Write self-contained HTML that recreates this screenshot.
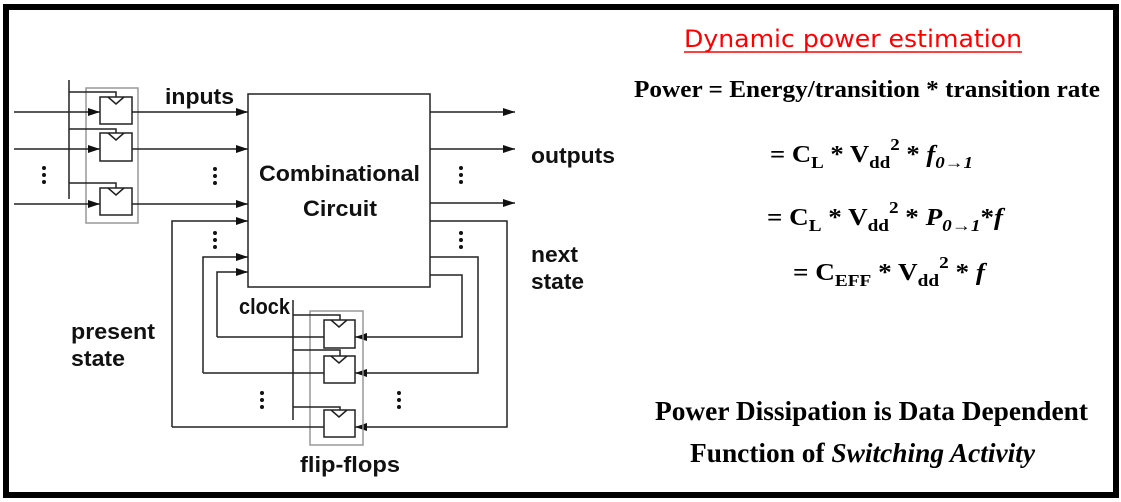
<!DOCTYPE html>
<html><head><meta charset="utf-8"><style>
html,body{margin:0;padding:0;background:#fff;}
svg{display:block;}
.l{font-family:"Liberation Sans",Arial,sans-serif;font-weight:bold;font-size:22px;fill:#111;}
.s{font-family:"Liberation Serif","Times New Roman",serif;font-weight:bold;fill:#000;}
</style></head><body>
<svg width="1121" height="502" viewBox="0 0 1121 502" xmlns="http://www.w3.org/2000/svg">
<defs>
<marker id="a" markerWidth="12" markerHeight="8" refX="12" refY="4" orient="auto" markerUnits="userSpaceOnUse">
<path d="M0,0 L12,4 L0,8 z" fill="#111"/></marker>
</defs>
<rect x="6" y="7" width="1110" height="488" fill="#fff" stroke="#000" stroke-width="6"/>

<g stroke="#222" stroke-width="1.5" fill="none">
<rect x="86" y="88" width="52" height="135" stroke="#999"/>
<rect x="100" y="97" width="32" height="27" fill="#fff"/>
<rect x="100" y="133" width="32" height="28" fill="#fff"/>
<rect x="100" y="188" width="32" height="27" fill="#fff"/>
<path d="M108,97 L116,104 L124,97 M108,133 L116,140 L124,133 M108,188 L116,195 L124,188"/>
<path d="M69,80 V199 M69,92 H116 V97 M69,129 H116 V133 M69,183 H116 V188"/>
<path d="M14,112 H100" marker-end="url(#a)"/>
<path d="M14,149 H100" marker-end="url(#a)"/>
<path d="M14,204 H100" marker-end="url(#a)"/>
<path d="M132,112 H248" marker-end="url(#a)"/>
<path d="M132,149 H248" marker-end="url(#a)"/>
<path d="M132,204 H248" marker-end="url(#a)"/>
<rect x="248" y="94" width="182" height="193"/>
<path d="M172,427 V221 H248" marker-end="url(#a)"/>
<path d="M203,373 V257 H248" marker-end="url(#a)"/>
<path d="M217,337 V272 H248" marker-end="url(#a)"/>
<path d="M430,112 H515" marker-end="url(#a)"/>
<path d="M430,149 H515" marker-end="url(#a)"/>
<path d="M430,203 H515" marker-end="url(#a)"/>
<path d="M430,221 H507 V427 H355" marker-end="url(#a)"/>
<path d="M430,257 H478 V373 H355" marker-end="url(#a)"/>
<path d="M430,275 H462 V337 H355" marker-end="url(#a)"/>
<rect x="310" y="311" width="53" height="134" stroke="#999"/>
<rect x="324" y="320" width="31" height="28" fill="#fff"/>
<rect x="324" y="356" width="31" height="27" fill="#fff"/>
<rect x="324" y="410" width="31" height="27" fill="#fff"/>
<path d="M331,320 L339,327 L347,320 M331,356 L339,363 L347,356 M331,410 L339,417 L347,410"/>
<path d="M324,337 H217 M324,373 H203 M324,427 H172"/>
<path d="M293,300 V420 M293,315 H340 V320 M293,350 H340 V356 M293,407 H340 V410"/>
</g>
<g fill="#111">
<circle cx="44" cy="168" r="2"/><circle cx="44" cy="175" r="2"/><circle cx="44" cy="182" r="2"/>
<circle cx="215" cy="169" r="2"/><circle cx="215" cy="176" r="2"/><circle cx="215" cy="183" r="2"/>
<circle cx="215" cy="233" r="2"/><circle cx="215" cy="240" r="2"/><circle cx="215" cy="247" r="2"/>
<circle cx="461" cy="168" r="2"/><circle cx="461" cy="175" r="2"/><circle cx="461" cy="182" r="2"/>
<circle cx="461" cy="233" r="2"/><circle cx="461" cy="240" r="2"/><circle cx="461" cy="247" r="2"/>
<circle cx="262" cy="393" r="2"/><circle cx="262" cy="400" r="2"/><circle cx="262" cy="407" r="2"/>
<circle cx="399" cy="393" r="2"/><circle cx="399" cy="400" r="2"/><circle cx="399" cy="407" r="2"/>
</g>
<g lengthAdjust="spacingAndGlyphs">
<text class="l" x="165" y="104" textLength="69" lengthAdjust="spacingAndGlyphs">inputs</text>
<text class="l" x="259" y="181" textLength="161" lengthAdjust="spacingAndGlyphs">Combinational</text>
<text class="l" x="303" y="216" textLength="74" lengthAdjust="spacingAndGlyphs">Circuit</text>
<text class="l" x="531" y="163" textLength="84" lengthAdjust="spacingAndGlyphs">outputs</text>
<text class="l" x="531" y="262" textLength="47" lengthAdjust="spacingAndGlyphs">next</text>
<text class="l" x="531" y="289" textLength="53" lengthAdjust="spacingAndGlyphs">state</text>
<text class="l" x="71" y="339" textLength="84" lengthAdjust="spacingAndGlyphs">present</text>
<text class="l" x="71" y="366" textLength="54" lengthAdjust="spacingAndGlyphs">state</text>
<text class="l" x="239" y="314" font-size="20" textLength="51" lengthAdjust="spacingAndGlyphs">clock</text>
<text class="l" x="300" y="472" textLength="100" lengthAdjust="spacingAndGlyphs">flip-flops</text>
</g>
<text x="684" y="47" font-family="'DejaVu Sans',Verdana,sans-serif" font-size="24" fill="#f00" textLength="338" lengthAdjust="spacingAndGlyphs">Dynamic power estimation</text>
<line x1="684" y1="52" x2="1022" y2="52" stroke="#f00" stroke-width="1.5"/>
<text class="s" x="634" y="97" font-size="24" textLength="466" lengthAdjust="spacingAndGlyphs">Power = Energy/transition * transition rate</text>
<text class="s" x="770" y="162" font-size="24" textLength="203" lengthAdjust="spacingAndGlyphs">= C<tspan font-size="17" dy="6">L</tspan><tspan dy="-6"> * V</tspan><tspan font-size="17" dy="6">dd</tspan><tspan font-size="17" dy="-18">2</tspan><tspan dy="12"> * </tspan><tspan font-style="italic">f</tspan><tspan font-style="italic" font-size="17" dy="6">0→1</tspan></text>
<text class="s" x="767" y="225" font-size="24" textLength="236" lengthAdjust="spacingAndGlyphs">= C<tspan font-size="17" dy="6">L</tspan><tspan dy="-6"> * V</tspan><tspan font-size="17" dy="6">dd</tspan><tspan font-size="17" dy="-18">2</tspan><tspan dy="12"> * </tspan><tspan font-style="italic">P</tspan><tspan font-style="italic" font-size="17" dy="6">0→1</tspan><tspan dy="-6">*</tspan><tspan font-style="italic">f</tspan></text>
<text class="s" x="793" y="280" font-size="24" textLength="192" lengthAdjust="spacingAndGlyphs">= C<tspan font-size="17" dy="6">EFF</tspan><tspan dy="-6"> * V</tspan><tspan font-size="17" dy="6">dd</tspan><tspan font-size="17" dy="-18">2</tspan><tspan dy="12"> * </tspan><tspan font-style="italic">f</tspan></text>
<text class="s" x="655" y="420" font-size="27" textLength="433" lengthAdjust="spacingAndGlyphs">Power Dissipation is Data Dependent</text>
<text class="s" x="690" y="462" font-size="27" textLength="345" lengthAdjust="spacingAndGlyphs">Function of <tspan font-style="italic">Switching Activity</tspan></text>
</svg>
</body></html>
